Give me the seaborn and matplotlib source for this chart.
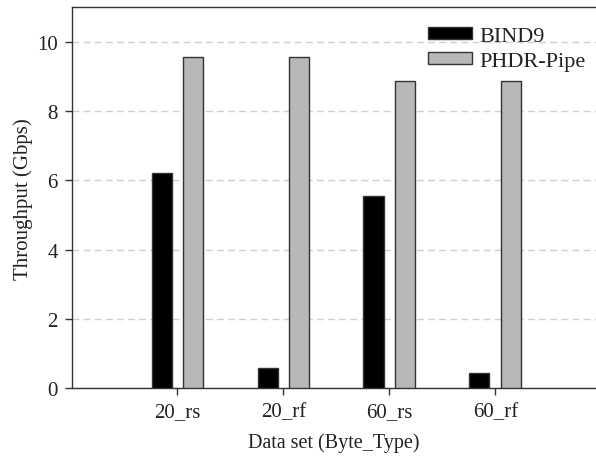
import matplotlib
matplotlib.use("Agg")
import matplotlib.pyplot as plt
import seaborn as sns
import pandas as pd

categories = ["20_rs", "20_rf", "60_rs", "60_rf"]
bind9 = [6.21, 0.60, 5.54, 0.46]
phdr = [9.54, 9.54, 8.85, 8.85]
series_names = ["BIND9", "PHDR-Pipe"]
yticks = [0, 2, 4, 6, 8, 10]

df = pd.DataFrame({
    "cat": categories * 2,
    "val": bind9 + phdr,
    "series": [series_names[0]] * 4 + [series_names[1]] * 4,
})

sns.set_theme(style="white")
plt.rcParams['font.family'] = ['Liberation Serif', 'DejaVu Serif']

fig = plt.figure(figsize=(5.96, 4.64), dpi=100)
ax = fig.add_axes([0.12, 0.1606, 0.88, 0.8225])

sns.barplot(data=df, x="cat", y="val", hue="series", order=categories,
            hue_order=series_names, palette=["#000000", "#b8b8b8"],
            width=0.6, gap=0.37, ax=ax, edgecolor="#333333", linewidth=1.0,
            saturation=1, errorbar=None, zorder=3)

ax.set_xlim(-1, 3.95)
ax.set_ylim(0, 11)
ax.set_yticks(yticks)
ax.set_yticklabels([str(t) for t in yticks])
ax.yaxis.grid(True, linestyle=(0, (5, 3)), color="#d0d0d0", linewidth=1.0, zorder=0)
ax.set_axisbelow(True)

for s in ["left", "bottom", "top"]:
    ax.spines[s].set_color("#333333")
    ax.spines[s].set_linewidth(1.0)
ax.spines["right"].set_visible(False)

fs = 15
ax.tick_params(axis="both", direction="out", length=5, width=1, color="#333333",
               labelsize=fs, labelcolor="#222222", left=True, bottom=True, pad=5)
ax.set_xlabel("Data set (Byte_Type)", fontsize=fs - 0.5, color="#222222", labelpad=8)
ax.set_ylabel("Throughput (Gbps)", fontsize=fs, color="#222222", labelpad=3)

leg = ax.legend(frameon=False, loc="upper left", bbox_to_anchor=(0.663, 0.971),
                fontsize=16, handlelength=1.98, handleheight=0.5,
                handletextpad=0.32, labelspacing=0.25, borderaxespad=0.0)
for t in leg.get_texts():
    t.set_color("#222222")

fig.savefig("out.png", dpi=100)
